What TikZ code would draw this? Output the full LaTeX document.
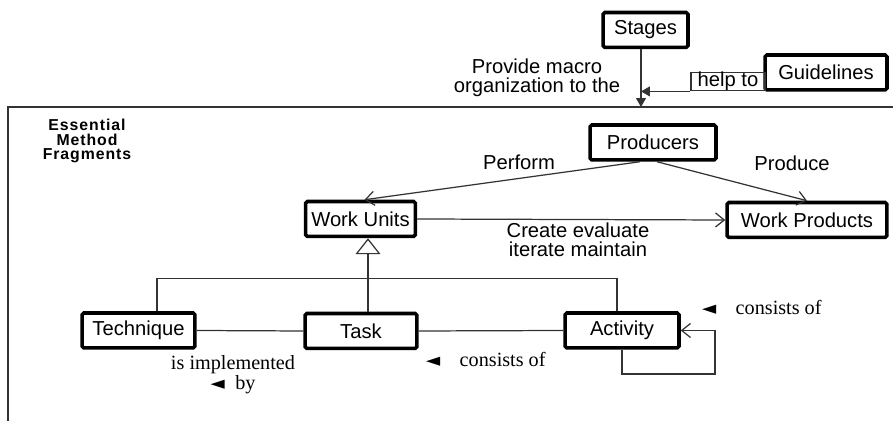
\documentclass[tikz,border=0pt]{standalone}
\usepackage{fontspec}
\setmainfont{Liberation Sans}
\newfontfamily\timesf{Liberation Serif}
\newfontfamily\symf{DejaVu Sans}
\usetikzlibrary{arrows.meta,calc}
\newcommand{\lefttri}{{\symf\fontsize{10.5}{8}\selectfont ◄}}

\begin{document}
\begin{tikzpicture}[x=0.02cm,y=-0.02cm,
    box/.style={draw=black,line width=2pt,rounded corners=1pt,fill=white,inner sep=0pt,
      font=\fontsize{11.5}{13}\selectfont,minimum height=0.7cm},
    conn/.style={draw=black!80,line width=0.7pt},
    lbl/.style={font=\fontsize{11.5}{10.5}\selectfont,align=center},
    note/.style={font=\timesf\fontsize{11.5}{9}\selectfont,align=center},
    openhead/.style={-{Straight Barb[length=5pt,width=8pt]}},
    fullhead/.style={-{Triangle[length=5pt,width=5.5pt]}}]
    \useasboundingbox (0,0) rectangle (893,421);

    % outer frame
    \draw[conn,line width=0.8pt] (8,421) -- (8,107) -- (893,107);
    \coordinate (top) at (641,107);

    \node[box,minimum width=1.7cm] (stages) at (645.5,30) {Stages};
    \node[box,minimum width=2.44cm] (guide) at (826,72.5) {Guidelines};
    \node[draw=black!80,line width=0.6pt,inner sep=0pt,minimum width=1.48cm,minimum height=0.34cm,
      font=\fontsize{11.5}{13}\selectfont] (help) at (728,81.5) {help to};

    \draw[conn,fullhead] (stages.south -| top) -- (top);
    \draw[conn,fullhead] (help.south west) -- (help.south west -| top);
    \node[lbl] (lblprov) at (537,78) {Provide macro\\organization to the};

    \node[font=\bfseries\fontsize{9}{8}\selectfont\addfontfeature{LetterSpace=6},align=center] (lblemf) at (87,141) {Essential\\Method\\Fragments};

    % boxes
    \node[box,minimum width=2.52cm] (prod) at (653,142.5) {Producers};
    \node[box,minimum width=2.2cm] (wu) at (360.5,219) {Work Units};
    \node[box,minimum width=3.2cm] (wp) at (807,220) {Work Products};
    \node[box,minimum width=2.26cm] (tech) at (138.5,330.5) {Technique};
    \node[box,minimum width=2.24cm] (task) at (361,331) {Task};
    \node[box,minimum width=2.28cm] (act) at (622,330.5) {Activity};

    \draw[conn,openhead] ([xshift=-0.26cm]prod.south) -- ([xshift=0.08cm]wu.north);
    \draw[conn,openhead] ([xshift=0.08cm]prod.south) -- (wp.north);
    \draw[conn,openhead] (wu.east) -- (wp.west);
    \node[lbl] (lblperf) at (519,162) {Perform};
    \node[lbl] (lblprodc) at (792,163) {Produce};
    \node[lbl] (lblcreate) at (578,240) {Create evaluate\\iterate maintain};

    % generalization
    \draw[conn,-{Triangle[open,length=0.32cm,width=0.5cm]}] ([xshift=0.14cm]task.north) -- ([xshift=0.14cm]task.north |- wu.south);
    \draw[conn] ([xshift=0.37cm]tech.north) -- ++(0,-33) -| ([xshift=-0.1cm]act.north);

    \draw[conn] (tech.east) -- (task.west);
    \draw[conn] (task.east) -- (act.west);
    \coordinate (loop) at (715,374);
    \draw[conn,openhead] (act.south) |- (loop) |- (act.east);

    \node[note,anchor=west] (lblcons1) at (696,307) {\lefttri\hspace{11pt}consists of};
    \node[note,anchor=west] (lblcons2) at (420,359) {\lefttri\hspace{11pt}consists of};
    \node[note] (lblimpl) at (233,375) {is implemented\\\lefttri\hspace{6pt}by};
\end{tikzpicture}
\end{document}
